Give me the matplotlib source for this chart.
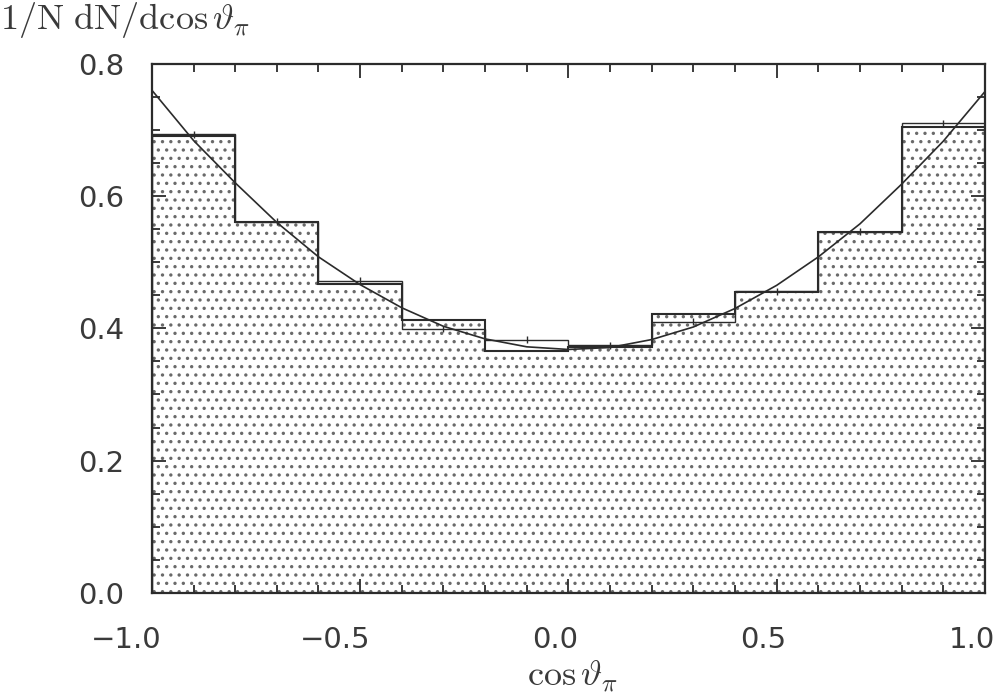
import numpy as np
import matplotlib
matplotlib.use("Agg")
import matplotlib.pyplot as plt
import matplotlib.transforms as mtransforms
from matplotlib.ticker import MultipleLocator

plt.rcParams['mathtext.fontset'] = 'cm'
plt.rcParams['hatch.linewidth'] = 1.2

# bin edges of cos(theta_pi)
edges = [-1.0, -0.8, -0.6, -0.4, -0.2, 0.0, 0.2, 0.4, 0.6, 0.8, 1.0]

# filled (dotted) histogram
filled_vals = [0.691, 0.560, 0.467, 0.413, 0.365, 0.371, 0.422, 0.455, 0.545, 0.705]

# outline histogram with small error ticks
line_vals = [0.693, 0.561, 0.472, 0.399, 0.383, 0.374, 0.410, 0.456, 0.546, 0.710]
line_errs = [0.005, 0.005, 0.005, 0.005, 0.005, 0.005, 0.005, 0.005, 0.005, 0.005]

# fitted curve
curve_x = [-1.0, -0.9, -0.8, -0.7, -0.6, -0.5, -0.4, -0.3, -0.2, -0.1, 0.0,
           0.1, 0.2, 0.3, 0.4, 0.5, 0.6, 0.7, 0.8, 0.9, 1.0]
curve_y = [0.760, 0.684, 0.620, 0.560, 0.508, 0.466, 0.431, 0.403, 0.384, 0.372, 0.368,
           0.371, 0.383, 0.402, 0.430, 0.465, 0.508, 0.558, 0.618, 0.683, 0.758]

xtick_vals = [-1.0, -0.5, 0.0, 0.5, 1.0]
xtick_text = ['\u22121.0', '\u22120.5', '0.0', '0.5', '1.0']
ytick_vals = [0.0, 0.2, 0.4, 0.6, 0.8]
ytick_text = ['0.0', '0.2', '0.4', '0.6', '0.8']

ink = '#2b2b2b'
txt = '#3a3a3a'

fig = plt.figure(figsize=(9.99, 7.0), dpi=100)
ax = fig.add_axes([0.152, 0.153, 0.834, 0.756])

# dotted fill
ax.stairs(filled_vals, edges, fill=True, hatch='..', facecolor='white',
          edgecolor='#6a6a6a', linewidth=0)
# outlines
ax.stairs(filled_vals, edges, color=ink, linewidth=1.5, baseline=0)
ax.stairs(line_vals, edges, color=ink, linewidth=1.0)

centers = [(edges[i] + edges[i + 1]) / 2 for i in range(len(line_vals))]
ax.errorbar(centers, line_vals, yerr=line_errs, fmt='none', ecolor=ink,
            elinewidth=1.0, capsize=0)

ax.plot(curve_x, curve_y, color=ink, linewidth=1.2)

ax.set_xlim(-1.0, 1.0)
ax.set_ylim(0.0, 0.8)
ax.set_xticks(xtick_vals)
ax.set_xticklabels(xtick_text)
ax.set_yticks(ytick_vals)
ax.set_yticklabels(ytick_text)
ax.xaxis.set_minor_locator(MultipleLocator(0.1))
ax.yaxis.set_minor_locator(MultipleLocator(0.05))
ax.tick_params(which='both', direction='in', top=True, right=True,
               colors=ink, labelcolor=txt, labelsize=21, width=1.3)
ax.tick_params(which='major', length=10)
ax.tick_params(which='minor', length=6)
ax.tick_params(axis='x', which='major', pad=24)
ax.tick_params(axis='y', which='major', pad=20)
for s in ax.spines.values():
    s.set_linewidth(1.6)
    s.set_color(ink)

# x tick labels sit right-aligned a little past their ticks
shift = mtransforms.ScaledTranslation(10 / 100, 0, fig.dpi_scale_trans)
for lab in ax.get_xticklabels():
    lab.set_horizontalalignment('right')
    lab.set_transform(lab.get_transform() + shift)

fig.text(0.0, 0.972, r'$\mathrm{1/N\ dN/dcos}\,\vartheta_\pi$', fontsize=26,
         color=txt, va='center', ha='left')
fig.text(0.573, 0.034, r'$\mathrm{cos}\,\vartheta_\pi$', fontsize=26,
         color=txt, va='center', ha='center')

fig.savefig('out.png', dpi=100)
